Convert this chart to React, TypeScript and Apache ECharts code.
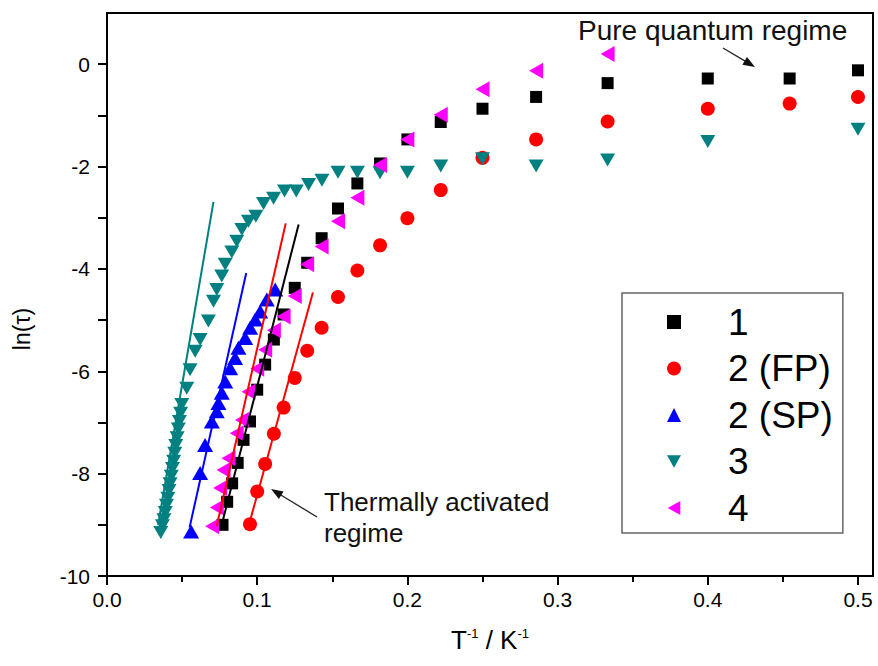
import React, { useEffect, useRef } from "react";
import * as echarts from "echarts";

// ---- Data ----
const S1_X = [0.5, 0.4545, 0.4, 0.3333, 0.2857, 0.25, 0.2222, 0.2, 0.1818, 0.1667, 0.1538, 0.1429, 0.1333, 0.125, 0.1176, 0.1111, 0.1053, 0.1, 0.0952, 0.0909, 0.087, 0.0833, 0.08, 0.0769];
const S1_Y = [-0.12, -0.28, -0.28, -0.37, -0.64, -0.87, -1.13, -1.47, -1.94, -2.33, -2.82, -3.40, -3.88, -4.37, -4.89, -5.38, -5.87, -6.36, -6.98, -7.34, -7.79, -8.19, -8.55, -9.0];

const S2FP_X = [0.5, 0.4545, 0.4, 0.3333, 0.2857, 0.25, 0.2222, 0.2, 0.1818, 0.1667, 0.1538, 0.1429, 0.1333, 0.125, 0.1176, 0.1111, 0.1053, 0.1, 0.0952];
const S2FP_Y = [-0.64, -0.77, -0.87, -1.12, -1.47, -1.83, -2.46, -3.01, -3.54, -4.03, -4.55, -5.15, -5.60, -6.13, -6.71, -7.22, -7.81, -8.35, -8.99];

const S2SP_X = [0.112, 0.1064, 0.102, 0.0987, 0.0953, 0.092, 0.0875, 0.0853, 0.082, 0.0787, 0.0764, 0.0742, 0.0731, 0.0698, 0.0653, 0.062, 0.056];
const S2SP_Y = [-4.40, -4.60, -4.83, -4.99, -5.15, -5.35, -5.54, -5.74, -5.94, -6.20, -6.42, -6.62, -6.78, -6.98, -7.44, -7.99, -9.13];

const S3_X = [0.5, 0.4, 0.3333, 0.2857, 0.25, 0.2222, 0.2, 0.1818, 0.1667, 0.1538, 0.1431, 0.1342, 0.126, 0.1182, 0.1109, 0.1042, 0.0991, 0.0942, 0.0898, 0.0864, 0.0831, 0.0787, 0.0764, 0.0731, 0.0709, 0.0675, 0.062, 0.0587, 0.0553, 0.0531, 0.0498, 0.049, 0.0482, 0.0475, 0.0467, 0.0458, 0.0451, 0.0444, 0.0436, 0.0428, 0.042, 0.0413, 0.0405, 0.0396, 0.0388, 0.0379, 0.0369, 0.0358];
const S3_Y = [-1.27, -1.51, -1.87, -1.99, -1.85, -1.99, -2.11, -2.12, -2.11, -2.11, -2.27, -2.35, -2.48, -2.48, -2.62, -2.72, -2.97, -3.07, -3.23, -3.46, -3.67, -3.91, -4.14, -4.40, -4.63, -5.02, -5.38, -5.61, -5.97, -6.33, -6.65, -6.82, -6.98, -7.13, -7.30, -7.45, -7.60, -7.76, -7.90, -8.05, -8.20, -8.33, -8.48, -8.62, -8.76, -8.90, -9.02, -9.15];

const S4_X = [0.3333, 0.2857, 0.25, 0.2222, 0.2, 0.1818, 0.1667, 0.1538, 0.1429, 0.1333, 0.125, 0.1176, 0.1111, 0.1053, 0.1, 0.0942, 0.0898, 0.0864, 0.0809, 0.0776, 0.0753, 0.0731, 0.07];
const S4_Y = [0.20, -0.13, -0.49, -0.99, -1.47, -1.97, -2.61, -3.07, -3.56, -3.91, -4.53, -4.93, -5.20, -5.58, -5.95, -6.40, -6.95, -7.21, -7.70, -7.93, -8.28, -8.66, -9.03];

// Linear fits (end points)
const FIT3 = [[0.034, -9.0], [0.0709, -2.69]];
const FIT2SP = [[0.055, -9.05], [0.0927, -4.08]];
const FIT4 = [[0.0731, -9.02], [0.119, -3.11]];
const FIT1 = [[0.0755, -9.1], [0.1276, -3.13]];
const FIT2FP = [[0.0945, -9.0], [0.1371, -4.46]];

const X_MAJOR = [0, 0.1, 0.2, 0.3, 0.4, 0.5];
const X_MINOR = [0.05, 0.15, 0.25, 0.35, 0.45];
const Y_MAJOR = [-10, -8, -6, -4, -2, 0];
const Y_MINOR = [-9, -7, -5, -3, -1];

const LEGEND_NAMES = ["1", "2 (FP)", "2 (SP)", "3", "4"];

const FONT = "'Liberation Sans', Arial, Helvetica, sans-serif";

const zip = (xs: number[], ys: number[]) => xs.map((x, i) => [x, ys[i]]);

function arrow(x1: number, y1: number, x2: number, y2: number) {
  const dx = x2 - x1, dy = y2 - y1;
  const len = Math.sqrt(dx * dx + dy * dy);
  const ux = dx / len, uy = dy / len;
  const hl = 12, hw = 4.5;
  const bx = x2 - ux * hl, by = y2 - uy * hl;
  return [
    { type: "line", shape: { x1, y1, x2: bx + ux * 2, y2: by + uy * 2 }, style: { stroke: "#222", lineWidth: 1.3 } },
    {
      type: "polygon",
      shape: { points: [[x2, y2], [bx - uy * hw, by + ux * hw], [bx + uy * hw, by - ux * hw]] },
      style: { fill: "#111" },
    },
  ];
}

export default function App() {
  const ref = useRef<HTMLDivElement>(null);
  useEffect(() => {
    if (!ref.current) return;
    const chart = echarts.init(ref.current, null, { renderer: "svg" });
    const axisCommon = {
      type: "value",
      splitLine: { show: false },
    };
    const scatter = (name: string, data: number[][], symbol: string, size: any, color: string) => ({
      type: "scatter",
      name,
      data,
      symbol,
      symbolSize: size,
      itemStyle: { color, opacity: 1 },
      z: 2,
    });
    const fit = (name: string, data: number[][], color: string) => ({
      type: "line",
      name,
      data,
      symbol: "none",
      showSymbol: false,
      silent: true,
      lineStyle: { color, width: 2 },
      z: 3,
    });
    const option: any = {
      animation: false,
      backgroundColor: "#fff",
      grid: {
        left: 107, right: 5, top: 13, bottom: 90,
        show: true, borderColor: "#000", borderWidth: 2,
        containLabel: false, outerBoundsMode: "none",
      },
      xAxis: [
        {
          ...axisCommon, min: 0, max: 0.51, position: "bottom",
          axisLine: { show: true, onZero: false, lineStyle: { color: "#000", width: 2 } },
          axisTick: { show: true, customValues: X_MAJOR, length: 9, lineStyle: { color: "#000", width: 2 } },
          axisLabel: {
            customValues: X_MAJOR, formatter: (v: number) => v.toFixed(1),
            fontSize: 21, fontFamily: FONT, color: "#000", margin: 13,
          },
        },
        {
          ...axisCommon, min: 0, max: 0.51, position: "bottom",
          axisLine: { show: false, onZero: false },
          axisTick: { show: true, customValues: X_MINOR, length: 6, lineStyle: { color: "#000", width: 2 } },
          axisLabel: { show: false },
        },
      ],
      yAxis: [
        {
          ...axisCommon, min: -10, max: 1, position: "left",
          axisLine: { show: true, onZero: false, lineStyle: { color: "#000", width: 2 } },
          axisTick: { show: true, customValues: Y_MAJOR, length: 9, lineStyle: { color: "#000", width: 2 } },
          axisLabel: {
            customValues: Y_MAJOR, fontSize: 21, fontFamily: FONT, color: "#000", margin: 17,
          },
        },
        {
          ...axisCommon, min: -10, max: 1, position: "left",
          axisLine: { show: false, onZero: false },
          axisTick: { show: true, customValues: Y_MINOR, length: 9, lineStyle: { color: "#000", width: 2 } },
          axisLabel: { show: false },
        },
      ],
      legend: {
        show: true,
        orient: "vertical",
        left: 622,
        top: 293,
        padding: [9, 10, 5, 45],
        itemWidth: 14,
        itemHeight: 14,
        itemGap: 6.5,
        borderColor: "#666",
        borderWidth: 1.5,
        backgroundColor: "#fff",
        data: LEGEND_NAMES,
        textStyle: { fontSize: 37, fontFamily: FONT, color: "#000", lineHeight: 40, padding: [0, 0, 0, 42] },
      },
      series: [
        scatter(LEGEND_NAMES[0], zip(S1_X, S1_Y), "rect", 12, "#000000"),
        scatter(LEGEND_NAMES[1], zip(S2FP_X, S2FP_Y), "circle", 14, "#ff0000"),
        scatter(LEGEND_NAMES[2], zip(S2SP_X, S2SP_Y), "triangle", [16, 14], "#0000ff"),
        scatter(LEGEND_NAMES[3], zip(S3_X, S3_Y), "path://M0,0L10,0L5,9Z", [15, 13], "#008080"),
        scatter(LEGEND_NAMES[4], zip(S4_X, S4_Y), "path://M0,5L9,0L9,10Z", [14, 16], "#ff00ff"),
        fit("fit3", FIT3, "#008080"),
        fit("fit2sp", FIT2SP, "#0000ff"),
        fit("fit4", FIT4, "#ff0000"),
        fit("fit1", FIT1, "#000000"),
        fit("fit2fp", FIT2FP, "#ff0000"),
      ],
      graphic: [
        {
          type: "text", x: 578, y: 30,
          style: { text: "Pure quantum regime", fontSize: 28, fontFamily: FONT, fill: "#111", align: "left", verticalAlign: "middle" },
          z: 10,
        },
        ...arrow(723, 48, 755, 67),
        {
          type: "text", x: 324, y: 502,
          style: { text: "Thermally activated", fontSize: 26, fontFamily: FONT, fill: "#111", align: "left", verticalAlign: "middle" },
          z: 10,
        },
        {
          type: "text", x: 324, y: 533,
          style: { text: "regime", fontSize: 26, fontFamily: FONT, fill: "#111", align: "left", verticalAlign: "middle" },
          z: 10,
        },
        ...arrow(317, 517, 271, 489),
        {
          type: "text", x: 22, y: 329, rotation: Math.PI / 2,
          style: { text: "ln(τ)", fontSize: 23, fontFamily: FONT, fill: "#000", align: "center", verticalAlign: "middle" },
        },
        {
          type: "text", x: 490, y: 640,
          style: {
            text: "{b|T}{s|-1}{b| / K}{s|-1}",
            align: "center", verticalAlign: "middle",
            rich: {
              b: { fontSize: 26, fontFamily: FONT, fill: "#000", color: "#000", verticalAlign: "bottom" },
              s: { fontSize: 13, fontFamily: FONT, fill: "#000", color: "#000", verticalAlign: "top" },
            },
          },
        },
      ],
    };
    chart.setOption(option);
    return () => chart.dispose();
  }, []);
  return <div ref={ref} style={{ width: 878, height: 666, position: "absolute", left: 0, top: 0 }} />;
}
